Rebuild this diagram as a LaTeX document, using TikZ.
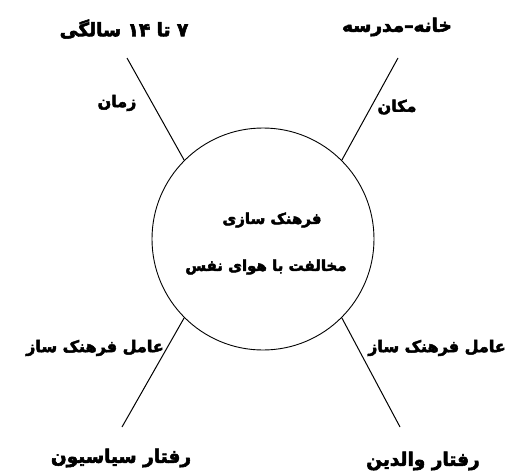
\documentclass[tikz,border=0pt]{standalone}
\usepackage{fontspec}
\newfontfamily\farsi[Script=Arabic, FakeBold=3]{DejaVu Sans Bold}
\TeXXeTstate=1
\usetikzlibrary{positioning}
\tikzset{
  hub/.style   = {circle, draw, line width=0.9pt, minimum size=222pt,
                  inner sep=0pt, align=center},
  head/.style  = {font=\farsi\fontsize{18.5}{22}\selectfont},
  side/.style  = {font=\farsi\fontsize{16}{19}\selectfont},
  core/.style  = {font=\farsi\fontsize{15}{18}\selectfont},
  spoke/.style = {line width=1pt},
}
\newcommand{\fa}[1]{\beginR #1\endR}

\begin{document}
\begin{tikzpicture}[x=1pt, y=-1pt]
  \useasboundingbox (0,0) rectangle (507,471);

  \node[hub] (hub) at (263,239) {};
  \node[core] (c1) at (272,220) {\fa{فرهنک سازی}};
  \node[core] (c2) at (266,267) {\fa{مخالفت با هوای نفس}};

  % outer ends of the spokes
  \coordinate (tl) at (127,58);
  \coordinate (tr) at (398,58);
  \coordinate (bl) at (122,427);
  \coordinate (br) at (400,427);

  \draw[spoke] (hub.135) -- (tl);
  \draw[spoke] (hub.45)  -- (tr);
  \draw[spoke] (hub.-135) -- (bl);
  \draw[spoke] (hub.-45)  -- (br);

  \node[head] (age)    at (124,29)  {\fa{۷ تا ۱۴ سالگی}};
  \node[head] (school) at (397,27)  {\fa{خانه–مدرسه}};
  \node[head] (polit)  at (121,458) {\fa{رفتار سیاسیون}};
  \node[head] (parent) at (423,461) {\fa{رفتار والدین}};

  \node[side] (time)   at (117,103) {\fa{زمان}};
  \node[side] (place)  at (397,107) {\fa{مکان}};
  \node[side] (agl)    at (95,348)  {\fa{عامل فرهنک ساز}};
  \node[side] (agr)    at (437,348) {\fa{عامل فرهنک ساز}};
\end{tikzpicture}
\end{document}
